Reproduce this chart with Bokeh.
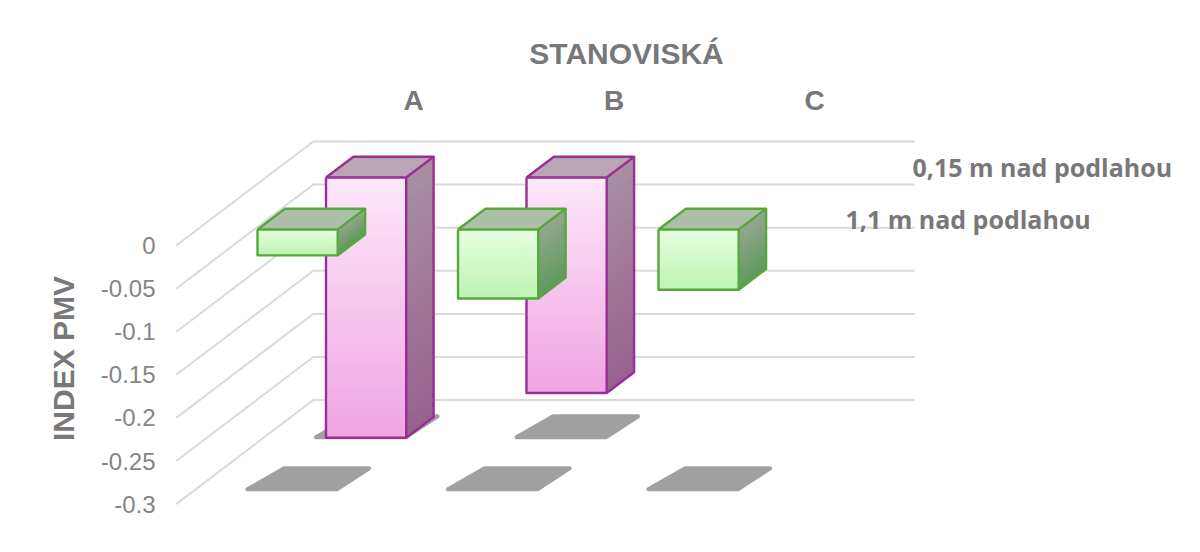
from bokeh.plotting import figure
from bokeh.models import Range1d
from bokeh.core.properties import value
from bokeh.embed import file_html
from bokeh.resources import INLINE

categories = ["A", "B", "C"]
ticks = [0, -0.05, -0.1, -0.15, -0.2, -0.25, -0.3]
tick_labels = ["0", "-0.05", "-0.1", "-0.15", "-0.2", "-0.25", "-0.3"]
series_back_name = "0,15 m nad podlahou"
series_front_name = "1,1 m nad podlahou"
series_back = [-0.302, -0.25, None]
series_front = [-0.03, -0.08, -0.07]

# Layout: page pixels to data units
PX0, PX_UNIT = 276.0, 200.5
PY0, PY_UNIT = 245.0, 862.0
DX, DY = 137.0 / PX_UNIT, 104.0 / PY_UNIT   # full chart depth in data units
BAR_W = 0.4
DEPTH = 0.2
T_FRONT, T_BACK = 0.154, 0.654
FLOOR = ticks[-1]

def X(px): return (px - PX0) / PX_UNIT
def Y(py): return (PY0 - py) / PY_UNIT
def proj(x, v, t): return x + t * DX, v + t * DY

p = figure(width=1184, height=536, output_backend="svg", toolbar_location=None,
           x_range=Range1d(X(0), X(1184)), y_range=Range1d(Y(536), Y(0)),
           min_border=0, outline_line_color=None, background_fill_color="white")
p.axis.visible = False
p.grid.visible = False

def lerp_hex(c1, c2, f):
    a = [int(c1[i:i+2], 16) for i in (1, 3, 5)]
    b = [int(c2[i:i+2], 16) for i in (1, 3, 5)]
    return "#%02x%02x%02x" % tuple(round(a[i] + (b[i] - a[i]) * f) for i in range(3))

# Grid: front-left to back wall, then across the wall
gx, gy = [], []
for t in ticks:
    x0, x1, x2 = -0.5, -0.5 + DX, -0.5 + DX + len(categories)
    gx.append([x0, x1, x2])
    gy.append([t, t + DY, t + DY])
p.multi_line(gx, gy, line_color="#dadada", line_width=2)

def shadow(i, t):
    pad = 0.012
    slant = 0.03
    d0, d1 = t - 0.012, t + DEPTH - 0.01
    pts = [(i - BAR_W / 2 - pad - slant, d0), (i + BAR_W / 2 + pad - slant / 4, d0),
           (i + BAR_W / 2 + pad + slant / 2, d1), (i - BAR_W / 2 - pad + slant / 2, d1)]
    xs, ys = [], []
    for x, tt in pts:
        a, b = proj(x, FLOOR, tt)
        xs.append(a); ys.append(b)
    return xs, ys

sx, sy = [], []
for vals, t in ((series_back, T_BACK), (series_front, T_FRONT)):
    for i, v in enumerate(vals):
        if v is not None:
            a, b = shadow(i, t)
            sx.append(a); sy.append(b)
p.patches(sx, sy, fill_color="#a0a0a0", line_color="#a0a0a0", line_width=4, line_join="round")

def bar(i, v, t, top_c, fr1, fr2, si1, si2, edge):
    xl, xr = i - BAR_W / 2, i + BAR_W / 2
    n = 36
    c = [proj(xl, 0, t), proj(xr, 0, t), proj(xr, 0, t + DEPTH), proj(xl, 0, t + DEPTH)]
    p.patch([q[0] for q in c], [q[1] for q in c], fill_color=top_c, line_color=None)
    lefts, rights, tops, bottoms, cols = [], [], [], [], []
    px, py, pc = [], [], []
    for k in range(n):
        v1 = v * k / n
        v2 = v * (k + 1) / n
        f = (k + 0.5) / n
        a, b1 = proj(xl, v1, t); b, _ = proj(xr, v1, t); _, b2 = proj(xl, v2, t)
        lefts.append(a); rights.append(b); tops.append(b1); bottoms.append(b2)
        cols.append(lerp_hex(fr1, fr2, f))
        q = [proj(xr, v1, t), proj(xr, v1, t + DEPTH), proj(xr, v2, t + DEPTH), proj(xr, v2, t)]
        px.append([w[0] for w in q]); py.append([w[1] for w in q])
        pc.append(lerp_hex(si1, si2, f))
    p.patches(px, py, fill_color=pc, line_color=pc, line_width=1)
    p.quad(left=lefts, right=rights, top=tops, bottom=bottoms, fill_color=cols, line_color=cols, line_width=1)
    f = [proj(xl, 0, t), proj(xr, 0, t), proj(xr, v, t), proj(xl, v, t), proj(xl, 0, t)]
    tp = [proj(xl, 0, t), proj(xl, 0, t + DEPTH), proj(xr, 0, t + DEPTH), proj(xr, 0, t)]
    sd = [proj(xr, 0, t + DEPTH), proj(xr, v, t + DEPTH), proj(xr, v, t)]
    p.multi_line([[w[0] for w in l] for l in (f, tp, sd)], [[w[1] for w in l] for l in (f, tp, sd)],
                 line_color=edge, line_width=2.4, line_join="round")

for i, v in enumerate(series_back):
    if v is not None:
        bar(i, v, T_BACK, "#b9a5b3", "#fde8f9", "#f0a4e3", "#a88fa3", "#98608e", "#982f95")
for i, v in enumerate(series_front):
    if v is not None:
        bar(i, v, T_FRONT, "#aebfa9", "#e7fde0", "#bdf4b2", "#94a68f", "#5e9a5c", "#57a83c")

GREY = "#858585"
DARK = "#787878"
def label(x, y, s, size, color, bold=False, font="Liberation Sans", align="center", angle=0):
    p.text([x], [y], text=[s], text_font=value(font), text_font_size=size, text_color=color,
           text_align=align, text_baseline="middle", angle=angle,
           text_font_style="bold" if bold else "normal")

for t, s in zip(ticks, tick_labels):
    label(X(155), t, s, "24px", GREY, align="right")
for i, c in enumerate(categories):
    label(i + DX, Y(100), c, "28px", DARK, bold=True)
label(X(626), Y(53), "STANOVISKÁ", "30px", DARK, bold=True)
label(X(63), Y(358), "INDEX PMV", "30px", DARK, bold=True, angle=1.5708)
label(X(912), Y(166), series_back_name, "25px", DARK, bold=True, font="Open Sans", align="left")
label(X(845), Y(218), series_front_name, "25px", DARK, bold=True, font="Open Sans", align="left")

open("out.html", "w").write(file_html(p, INLINE))
